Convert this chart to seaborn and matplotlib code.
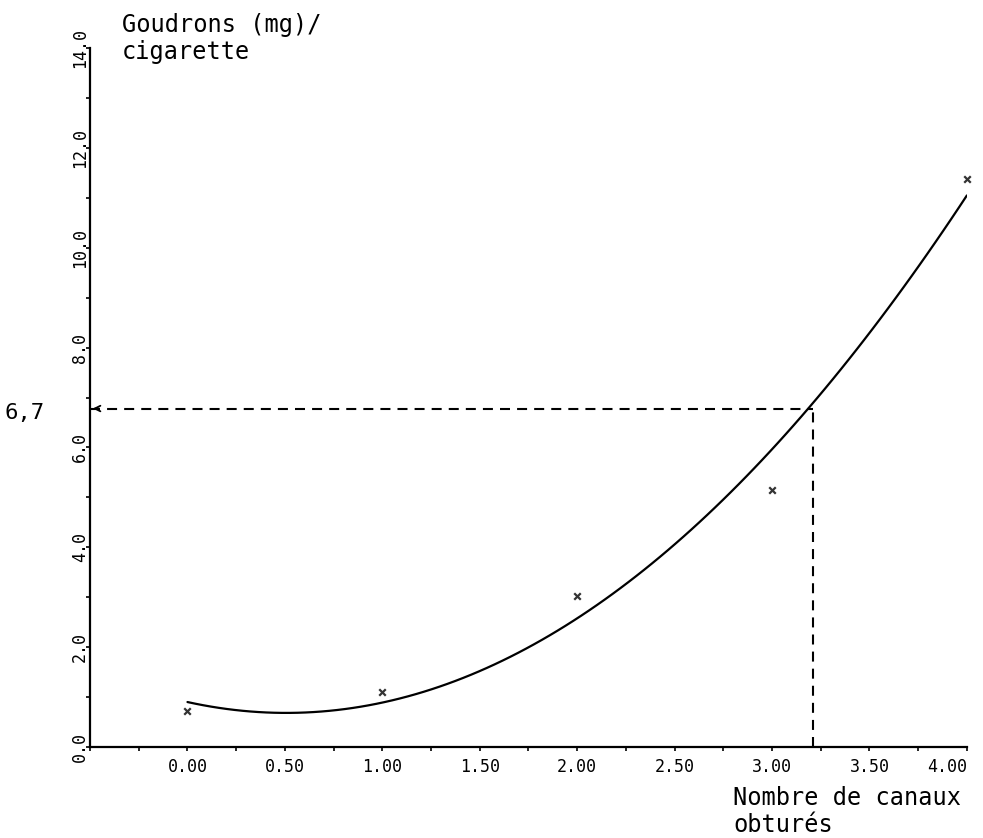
import numpy as np
import seaborn as sns
import matplotlib
matplotlib.use("Agg")
import matplotlib.pyplot as plt
from matplotlib.ticker import MultipleLocator, FixedLocator
###########################################################################

# canaux obturés vs goudrons (mg) par cigarette
canaux = [0.0, 1.0, 2.0, 3.0, 4.0]
goudrons = [0.72, 1.1, 3.03, 5.15, 11.38]

x_ticks = [0.0, 0.5, 1.0, 1.5, 2.0, 2.5, 3.0, 3.5, 4.0]
x_ticklabels = ["0.00", "0.50", "1.00", "1.50", "2.00", "2.50", "3.00", "3.50", "4.00"]
y_ticks = [0, 2, 4, 6, 8, 10, 12, 14]
y_ticklabels = ["0.0", "2.0", "4.0", "6.0", "8.0", "10.0", "12.0", "14.0"]

# lecture graphique
guide_x = 3.21
guide_y = 6.78
guide_label = "6,7"


def plot_goudrons():
    sns.set_theme(style="white")
    plt.rcParams["font.family"] = ["DejaVu Sans Mono", "DejaVu Sans"]
    plt.rcParams["text.color"] = "black"
    plt.rcParams["xtick.color"] = "black"
    plt.rcParams["ytick.color"] = "black"

    fig = plt.figure(figsize=(9.83, 8.38), dpi=100)
    ax = fig.add_axes([0.0916, 0.1086, 0.892, 0.834])

    sns.regplot(x=canaux, y=goudrons, order=2, ci=None, ax=ax,
                marker="x", color="black",
                scatter_kws={"s": 22, "linewidths": 1.6, "clip_on": False},
                line_kws={"linewidth": 1.6})

    ax.set_xlim(-0.5, 4.0)
    ax.set_ylim(0, 14)

    # pointillés de lecture
    ax.plot([-0.5, guide_x], [guide_y, guide_y], color="black", lw=1.5,
            linestyle=(0, (4.8, 3.4)))
    ax.plot([guide_x, guide_x], [0, guide_y], color="black", lw=1.5,
            linestyle=(0, (4.8, 3.4)))
    ax.annotate("", xy=(-0.5, guide_y), xytext=(-0.44, guide_y),
                arrowprops=dict(arrowstyle="->", color="black", lw=1.3,
                                mutation_scale=10))

    for side in ["top", "right"]:
        ax.spines[side].set_visible(False)
    for side in ["left", "bottom"]:
        ax.spines[side].set_color("black")
        ax.spines[side].set_linewidth(1.6)

    ax.xaxis.set_major_locator(FixedLocator(x_ticks))
    ax.set_xticklabels(x_ticklabels, fontsize=12)
    ax.get_xticklabels()[-1].set_ha("right")
    ax.xaxis.set_minor_locator(MultipleLocator(0.25))
    ax.yaxis.set_major_locator(FixedLocator(y_ticks))
    ax.set_yticklabels(y_ticklabels, fontsize=12, rotation=90, va="center")
    ax.yaxis.set_minor_locator(MultipleLocator(1.0))
    ax.tick_params(which="both", direction="out", length=3, width=1.2,
                   color="black", bottom=True, left=True)
    ax.tick_params(axis="x", pad=5)
    ax.tick_params(axis="y", pad=-2)

    fig.text(0.124, 0.985, "Goudrons (mg)/\ncigarette", fontsize=17,
             va="top", ha="left", linespacing=1.2)
    fig.text(0.7457, 0.062, "Nombre de canaux\nobturés", fontsize=17,
             va="top", ha="left", linespacing=1.15)
    fig.text(0.005, 0.507, guide_label, fontsize=16, va="center", ha="left")

    fig.savefig("out.png", dpi=100)
    plt.close(fig)


if __name__ == "__main__":
    plot_goudrons()
